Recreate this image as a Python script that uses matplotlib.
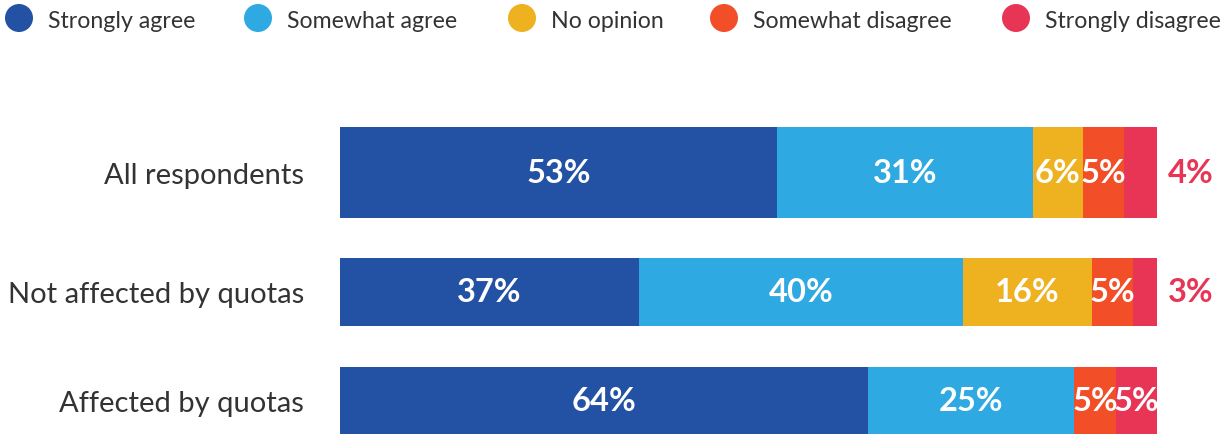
import numpy as np
import matplotlib.pyplot as plt
from matplotlib.patches import Circle

# --- DATI ---
categorie = ['All respondents', 'Not affected by quotas', 'Affected by quotas']
risposte = ['Strongly agree', 'Somewhat agree', 'No opinion',
            'Somewhat disagree', 'Strongly disagree']
strongly_agree = [53, 37, 64]
somewhat_agree = [31, 40, 25]
no_opinion = [6, 16, 0]
somewhat_disagree = [5, 5, 5]
strongly_disagree = [4, 3, 5]

# --- STILE / LAYOUT ---
colori = ['#2351A4', '#2EA9E1', '#EEB120', '#F24E27', '#E83556']
altezze = [0.797, 0.595, 0.595]
ypos = np.array([0, 1.046, 2])   # posizione delle righe (spaziatura non uniforme)

W, H = 1223, 435
plt.rcParams['font.family'] = ['Lato', 'DejaVu Sans']

fig = plt.figure(figsize=(W / 100, H / 100), dpi=100)

# axes dei bar: x da 340 a 1157 px, y da 120 a 435 px
ax = fig.add_axes([340 / W, 0, (1157 - 340) / W, 315 / H])
ax.set_xlim(0, 100)
ax.set_ylim(2.289, -0.468)

serie = np.array([strongly_agree, somewhat_agree, no_opinion,
                  somewhat_disagree, strongly_disagree], dtype=float)
totali = serie.sum(axis=0)
quote = serie / totali * 100

sinistra = np.zeros(len(categorie))
for j, nome in enumerate(risposte):
    ax.barh(ypos, quote[j], left=sinistra, height=altezze,
            color=colori[j], linewidth=0)
    for i in range(len(categorie)):
        v = serie[j, i]
        if v == 0:
            continue
        testo = f'{int(v)}%'
        # strongly disagree troppo stretto -> etichetta fuori
        if j == 4 and quote[j, i] < 4.5:
            ax.text(101.3, ypos[i], testo, ha='left', va='center',
                    color=colori[j], fontsize=23.5, fontweight='bold',
                    clip_on=False)
        else:
            ax.text(sinistra[i] + quote[j, i] / 2, ypos[i], testo,
                    ha='center', va='center', color='white',
                    fontsize=23.5, fontweight='bold')
    sinistra += quote[j]

ax.set_yticks(ypos)
ax.set_yticklabels(categorie, fontsize=21, color='#333333')
ax.tick_params(axis='y', length=0, pad=26)
ax.set_xticks([])
for s in ax.spines.values():
    s.set_visible(False)

# --- LEGENDA (cerchi + testo) ---
lax = fig.add_axes([0, 0, 1, 1])
lax.set_xlim(0, W)
lax.set_ylim(H, 0)
lax.set_aspect('equal')
lax.axis('off')
centri = [19, 258, 522, 724, 1016]
for c, nome, col in zip(centri, risposte, colori):
    lax.add_patch(Circle((c, 19), 14, color=col, linewidth=0))
    lax.text(c + 29, 21, nome, ha='left', va='center', fontsize=16.7,
             color='#333333')

fig.savefig('out.png', dpi=100)
